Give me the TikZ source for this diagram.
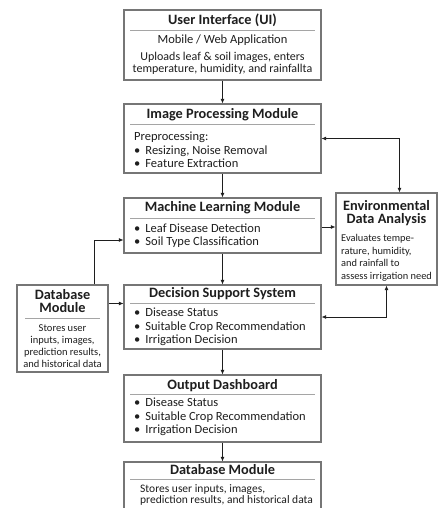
\documentclass[tikz,border=0pt]{standalone}
\usepackage{fontspec}
\setmainfont{Carlito}
\usetikzlibrary{arrows.meta, positioning, calc}
\definecolor{boxgray}{RGB}{118, 118, 118}
\definecolor{rulegray}{RGB}{165, 165, 165}
\definecolor{inkdark}{RGB}{30, 30, 30}

\begin{document}
\begin{tikzpicture}[x=1pt, y=-1pt,
  modbox/.style={draw=boxgray, line width=1.1pt, fill=white, inner sep=0pt},
  mtitle/.style={font=\bfseries\fontsize{14.3}{13}\selectfont, text=inkdark, inner sep=0pt, align=center},
  mtext/.style={font=\fontsize{12.5}{13.5}\selectfont, text=inkdark, inner sep=0pt},
  divider/.style={draw=rulegray, line width=0.8pt},
  conn/.style={draw=inkdark, line width=0.8pt, -{Latex[length=4.5pt,width=4pt]}},
  bconn/.style={conn, {Latex[length=4.5pt,width=4pt]}-{Latex[length=4.5pt,width=4pt]}}
]
  \useasboundingbox (0,0) rectangle (438,508);

  % main column
  \node[modbox, minimum width=197pt, minimum height=70pt] (ui) at (222.5,45) {};
  \node[mtitle] (uiT) at (222.5,20) {User Interface (UI)};
  \draw[divider] (130,30) -- (315,30);
  \node[mtext] (uiS) at (222.5,40) {Mobile / Web Application};
  \node[mtext, align=center, font=\fontsize{12}{12}\selectfont] (uiB) at (222.5,63)
    {Uploads leaf \& soil images, enters\\temperature, humidity, and rainfallta};

  \node[modbox, minimum width=197pt, minimum height=69pt] (ip) at (222.5,138.5) {};
  \node[mtitle] (ipT) at (222.5,115) {Image Processing Module};
  \draw[divider] (130,124) -- (315,124);
  \node[mtext, align=left, anchor=west] (ipB) at (134,150)
    {Preprocessing:\\
     \textbullet\hspace{5pt}Resizing, Noise Removal\\
     \textbullet\hspace{5pt}Feature Extraction};

  \node[modbox, minimum width=197pt, minimum height=55pt] (ml) at (222.5,225.5) {};
  \node[mtitle] (mlT) at (222.5,208) {Machine Learning Module};
  \draw[divider] (130,218) -- (315,218);
  \node[mtext, align=left, anchor=west] (mlB) at (134,235.5)
    {\textbullet\hspace{5pt}Leaf Disease Detection\\
     \textbullet\hspace{5pt}Soil Type Classification};

  \node[modbox, minimum width=197pt, minimum height=64pt] (dss) at (222.5,317) {};
  \node[mtitle] (dssT) at (222.5,294) {Decision Support System};
  \draw[divider] (130,303) -- (315,303);
  \node[mtext, align=left, anchor=west] (dssB) at (134,327)
    {\textbullet\hspace{5pt}Disease Status\\
     \textbullet\hspace{5pt}Suitable Crop Recommendation\\
     \textbullet\hspace{5pt}Irrigation Decision};

  \node[modbox, minimum width=197pt, minimum height=67pt] (out) at (222.5,408.5) {};
  \node[mtitle] (outT) at (222.5,386) {Output Dashboard};
  \draw[divider] (130,394) -- (315,394);
  \node[mtext, align=left, anchor=west] (outB) at (134,417)
    {\textbullet\hspace{5pt}Disease Status\\
     \textbullet\hspace{5pt}Suitable Crop Recommendation\\
     \textbullet\hspace{5pt}Irrigation Decision};

  \node[modbox, minimum width=197pt, minimum height=50pt] (db) at (222.5,487) {};
  \node[mtitle] (dbT) at (222.5,470) {Database Module};
  \draw[divider] (130,479) -- (315,479);
  \node[mtext, align=left, anchor=west, font=\fontsize{11.5}{11.5}\selectfont] (dbB) at (140,495)
    {Stores user inputs, images,\\prediction results, and historical data};

  % side boxes
  \node[modbox, minimum width=91pt, minimum height=87pt] (dbl) at (62.5,328.5) {};
  \node[mtitle] (dblT) at (62.5,301) {Database\\Module};
  \draw[divider] (25,318) -- (100,318);
  \node[mtext, align=center, font=\fontsize{10.5}{12}\selectfont] (dblB) at (62.5,346.5)
    {Stores user\\inputs, images,\\prediction results,\\and historical data};

  \node[modbox, minimum width=101pt, minimum height=92pt] (env) at (386.5,239) {};
  \node[mtitle] (envT) at (386.5,213.5) {Environmental\\Data Analysis};
  \node[mtext, align=left, anchor=west, font=\fontsize{10.4}{12.5}\selectfont] (envB) at (341,258)
    {Evaluates tempe-\\rature, humidity,\\and rainfall to\\assess irrigation need};

  % connectors
  \draw[conn] (ui) -- (ip);
  \draw[conn] (ip) -- (ml);
  \draw[conn] (ml) -- (dss);
  \draw[conn] (dss) -- (out);
  \draw[conn] (out) -- (db);
  \draw[bconn] (ip.east) -| ([xshift=13pt]env.north);
  \draw[conn] ([yshift=-1.5pt]ml.east) -- ([yshift=-1.5pt]ml.east -| env.west);
  \draw[bconn] (dss.east) -| (env.south);
  \draw[conn] ([xshift=31.5pt]dbl.north) |- ([yshift=-14.5pt]ml.west);
  \draw[conn] ([yshift=25pt]dbl.east) -- ([yshift=25pt]dbl.east -| dss.west);
\end{tikzpicture}
\end{document}
